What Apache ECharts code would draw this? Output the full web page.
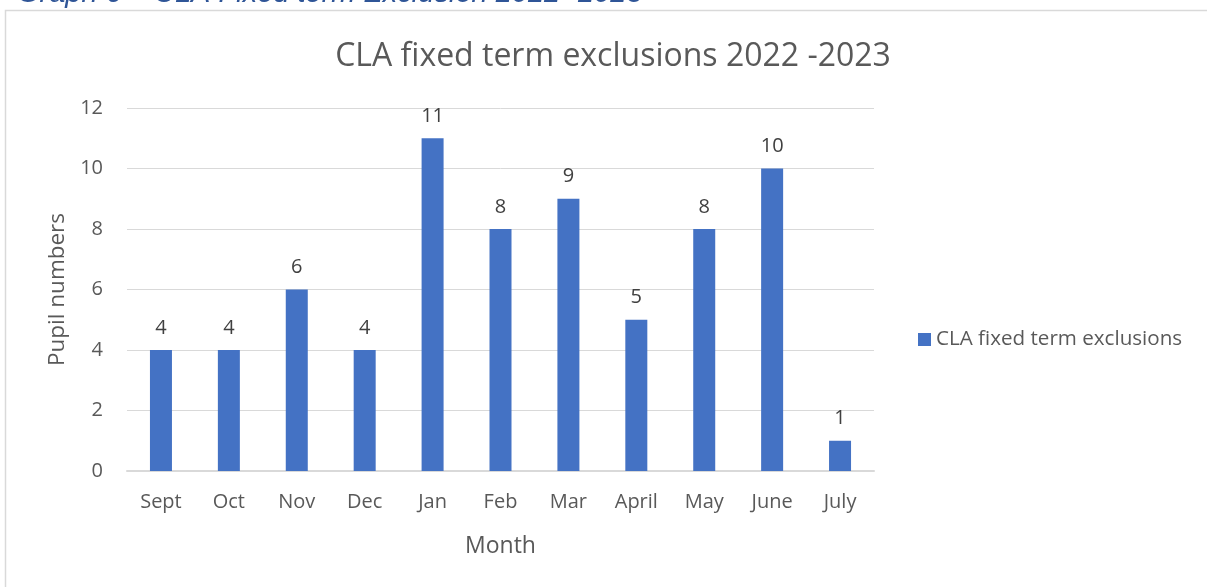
<!DOCTYPE html>
<html>
<head>
    <meta charset="utf-8" />
    <script type="text/javascript" src="https://cdn.jsdelivr.net/npm/echarts@6.0.0/dist/echarts.min.js"></script>
    <style>
      body { margin: 0; background: #ffffff; }
      #container { width: 1207px; height: 587px; }
    </style>
</head>
<body>
<div id="container"></div>
<script>
// chart data
var months = ['Sept', 'Oct', 'Nov', 'Dec', 'Jan', 'Feb', 'Mar', 'April', 'May', 'June', 'July'];
var exclusions = [4, 4, 6, 4, 11, 8, 9, 5, 8, 10, 1];
var seriesName = 'CLA fixed term exclusions';

var textFont = '"Open Sans", "Liberation Sans", sans-serif';
var grey = '#595959';

var dom = document.getElementById('container');
var myChart = echarts.init(dom, null, { renderer: 'canvas' });

var option = {
  animation: false,
  backgroundColor: '#ffffff',
  title: {
    text: 'CLA fixed term exclusions 2022 -2023',
    left: 608,
    top: 36,
    textAlign: 'center',
    textStyle: { fontFamily: textFont, fontSize: 32, fontWeight: 'normal', color: grey }
  },
  legend: {
    data: [seriesName],
    orient: 'vertical',
    left: 913,
    top: 324,
    itemWidth: 13,
    itemHeight: 13,
    itemGap: 6,
    icon: 'rect',
    textStyle: { fontFamily: textFont, fontSize: 20.6, color: grey }
  },
  grid: { left: 127, right: 333, top: 108, bottom: 116 },
  xAxis: {
    type: 'category',
    data: months,
    name: 'Month',
    nameLocation: 'middle',
    nameGap: 64,
    nameTextStyle: { fontFamily: textFont, fontSize: 23, color: grey },
    axisLine: { lineStyle: { color: '#d9d9d9', width: 2 } },
    axisTick: { show: false },
    axisLabel: { fontFamily: textFont, fontSize: 20, color: grey, margin: 21 }
  },
  yAxis: {
    type: 'value',
    min: 0,
    max: 12,
    interval: 2,
    name: 'Pupil numbers',
    nameLocation: 'middle',
    nameGap: 55,
    nameTextStyle: { fontFamily: textFont, fontSize: 22.5, color: grey },
    axisLine: { show: false },
    axisTick: { show: false },
    axisLabel: { fontFamily: textFont, fontSize: 20, color: grey, margin: 24 },
    splitLine: { lineStyle: { color: '#d9d9d9', width: 1 } }
  },
  series: [
    {
      name: seriesName,
      type: 'bar',
      data: exclusions,
      barWidth: 22,
      itemStyle: { color: '#4472c4' },
      label: {
        show: true,
        position: 'top',
        distance: 12,
        fontFamily: textFont,
        fontSize: 20,
        color: '#404040'
      }
    }
  ],
  graphic: [
    {
      type: 'rect',
      shape: { x: 5.5, y: 10.5, width: 1220, height: 600 },
      style: { fill: 'none', stroke: '#d9d9d9', lineWidth: 1.5 },
      z: -1
    },
    {
      // document caption above the chart, cut off at the page top
      type: 'text',
      left: 17,
      top: -21,
      style: {
        text: 'Graph 6 \u2013 CLA Fixed term Exclusion 2022 -2023',
        font: 'italic 29px "Liberation Sans", sans-serif',
        fill: '#2f5597'
      }
    }
  ]
};

myChart.setOption(option);
</script>
</body>
</html>
